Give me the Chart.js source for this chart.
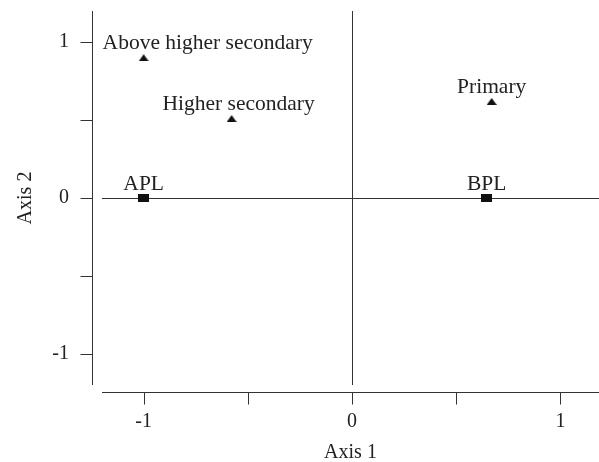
<!DOCTYPE html>
<html>
<head>
<meta charset="utf-8">
<script src="https://cdn.jsdelivr.net/npm/chart.js@4.4.1/dist/chart.umd.min.js"></script>
<style>
  html, body { margin: 0; padding: 0; background: #fff; }
  #wrap { width: 599px; height: 462px; }
</style>
</head>
<body>
<div id="wrap"><canvas id="myChart" width="599" height="462"></canvas></div>
<script>
// row points (income group) - squares
const rowLabels = ['APL', 'BPL'];
const rowX = [-1.0, 0.646];
const rowY = [0, 0];

// column points (education) - triangles
const colLabels = ['Above higher secondary', 'Higher secondary', 'Primary'];
const colX = [-1.0, -0.578, 0.67];
const colY = [0.90, 0.51, 0.62];

// axis ticks
const tickValues = [-1, -0.5, 0, 0.5, 1];
const tickText = { '-1': '-1', '0': '0', '1': '1' };

const FONT = 'Liberation Serif, Times New Roman, serif';
const INK = '#222';
const LINE = '#333';

// horizontal shift of each text label from its marker, in px
const rowShift = [0, 0];
const colShift = [64, 7, 0];

function squareMarker() {
    const c = document.createElement('canvas');
    c.width = 11; c.height = 8;
    const g = c.getContext('2d');
    g.fillStyle = '#111';
    g.fillRect(0, 0, 11, 8);
    return c;
}

function triangleMarker() {
    const c = document.createElement('canvas');
    c.width = 10; c.height = 7;
    const g = c.getContext('2d');
    g.fillStyle = '#111';
    g.beginPath();
    g.moveTo(5, 0);
    g.lineTo(10, 7);
    g.lineTo(0, 7);
    g.closePath();
    g.fill();
    return c;
}

function toPoints(xs, ys) {
    return xs.map((x, i) => ({ x: x, y: ys[i] }));
}

function noPad(scale) {
    scale.paddingTop = 0;
    scale.paddingBottom = 0;
    scale.paddingLeft = 0;
    scale.paddingRight = 0;
}

// axes drawn a bit away from the plot area, like base R
const detachedAxes = {
    id: 'detachedAxes',
    afterDraw(chart) {
        const ctx = chart.ctx;
        const area = chart.chartArea;
        const xs = chart.scales.x;
        const ys = chart.scales.y;
        ctx.save();
        ctx.strokeStyle = LINE;
        ctx.lineWidth = 1;

        const ax = Math.round(area.left - 10) + 0.5;
        ctx.beginPath();
        ctx.moveTo(ax, area.top);
        ctx.lineTo(ax, area.bottom);
        tickValues.forEach(v => {
            const py = Math.round(ys.getPixelForValue(v)) + 0.5;
            ctx.moveTo(ax, py);
            ctx.lineTo(ax - 12, py);
        });
        ctx.stroke();

        const ay = Math.round(area.bottom + 7) + 0.5;
        ctx.beginPath();
        ctx.moveTo(area.left, ay);
        ctx.lineTo(area.right, ay);
        tickValues.forEach(v => {
            const px = Math.round(xs.getPixelForValue(v)) + 0.5;
            ctx.moveTo(px, ay);
            ctx.lineTo(px, ay + 12);
        });
        ctx.stroke();
        ctx.restore();
    }
};

const pointText = {
    id: 'pointText',
    afterDatasetsDraw(chart) {
        const ctx = chart.ctx;
        ctx.save();
        ctx.font = '21.5px ' + FONT;
        ctx.fillStyle = INK;
        ctx.textAlign = 'center';
        ctx.textBaseline = 'alphabetic';
        const sets = [[rowLabels, rowShift], [colLabels, colShift]];
        sets.forEach((s, di) => {
            const meta = chart.getDatasetMeta(di);
            meta.data.forEach((el, i) => {
                ctx.fillText(s[0][i], el.x + s[1][i], el.y - 8.5);
            });
        });
        ctx.restore();
    }
};

const ctx = document.getElementById('myChart').getContext('2d');

new Chart(ctx, {
    type: 'scatter',
    data: {
        datasets: [
            {
                label: 'Income',
                data: toPoints(rowX, rowY),
                pointStyle: squareMarker(),
                pointRadius: 6
            },
            {
                label: 'Education',
                data: toPoints(colX, colY),
                pointStyle: triangleMarker(),
                pointRadius: 6
            }
        ]
    },
    options: {
        responsive: false,
        animation: false,
        devicePixelRatio: 1,
        layout: { autoPadding: false, padding: { top: 11, right: 0, left: 0, bottom: 0 } },
        plugins: {
            legend: { display: false },
            tooltip: { enabled: false }
        },
        scales: {
            x: {
                type: 'linear',
                min: -1.2,
                max: 1.185,
                afterFit(scale) { scale.height = 77; noPad(scale); },
                afterBuildTicks(scale) { scale.ticks = tickValues.map(v => ({ value: v })); },
                border: { display: false },
                grid: {
                    drawTicks: false,
                    color: c => (c.tick && c.tick.value === 0 ? LINE : 'rgba(0,0,0,0)'),
                    lineWidth: 1
                },
                ticks: {
                    padding: 25,
                    color: INK,
                    font: { family: FONT, size: 20 },
                    maxRotation: 0,
                    autoSkip: false,
                    callback: v => tickText[String(v)] || ''
                },
                title: {
                    display: true,
                    text: 'Axis 1',
                    color: INK,
                    font: { family: FONT, size: 20 },
                    padding: { top: 0, bottom: -3 }
                }
            },
            y: {
                type: 'linear',
                min: -1.2,
                max: 1.2,
                afterFit(scale) { scale.width = 102; noPad(scale); },
                afterBuildTicks(scale) { scale.ticks = tickValues.map(v => ({ value: v })); },
                border: { display: false },
                grid: {
                    drawTicks: false,
                    color: c => (c.tick && c.tick.value === 0 ? LINE : 'rgba(0,0,0,0)'),
                    lineWidth: 1
                },
                ticks: {
                    padding: 33,
                    color: INK,
                    font: { family: FONT, size: 20 },
                    autoSkip: false,
                    callback: v => tickText[String(v)] || ''
                },
                title: {
                    display: true,
                    text: 'Axis 2',
                    color: INK,
                    font: { family: FONT, size: 20 },
                    padding: { top: 14, bottom: 0 }
                }
            }
        }
    },
    plugins: [detachedAxes, pointText]
});
</script>
</body>
</html>
